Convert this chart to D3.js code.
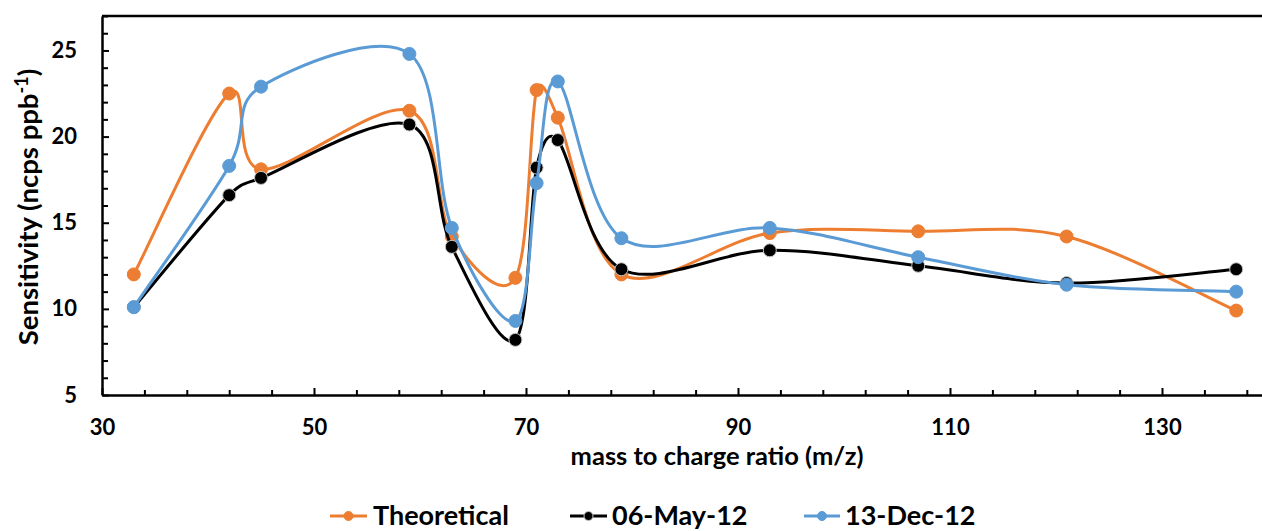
<!DOCTYPE html>
<html>
<head>
<meta charset="utf-8">
<script src="https://cdn.jsdelivr.net/npm/d3@7"></script>
<style>
  html, body { margin: 0; padding: 0; background: #fff; }
  svg { display: block; }
  text { font-family: Lato, "Open Sans", sans-serif; font-weight: 700; fill: #000; }
</style>
</head>
<body>
<svg id="chart" width="1262" height="531"></svg>
<script>
// m/z of the measured ions
const massToCharge = [33, 42, 45, 59, 63, 69, 71, 73, 79, 93, 107, 121, 137];

// Sensitivity (ncps ppb-1) per ion
const theoretical = [12.0, 22.5, 18.1, 21.5, 14.2, 11.8, 22.7, 21.1, 12.0, 14.4, 14.5, 14.2, 9.9];
const may2012     = [10.1, 16.6, 17.6, 20.7, 13.6, 8.2, 18.2, 19.8, 12.3, 13.4, 12.5, 11.5, 12.3];
const dec2012     = [10.1, 18.3, 22.9, 24.8, 14.7, 9.3, 17.3, 23.2, 14.1, 14.7, 13.0, 11.4, 11.0];

const seriesNames = ["Theoretical", "06-May-12", "13-Dec-12"];
const seriesColors = ["#ED7D31", "#000000", "#5B9BD5"];

const xMajorTicks = [30, 50, 70, 90, 110, 130];
const yMajorTicks = [5, 10, 15, 20, 25];

const svg = d3.select("#chart");

const plotLeft = 102, plotRight = 1268, plotTop = 16, plotBottom = 395;

const x = d3.scaleLinear().domain([30, 140]).range([plotLeft, plotRight]);
const y = d3.scaleLinear().domain([5, 27]).range([plotBottom, plotTop]);

// Smoothed line in the spreadsheet style: cubic Bezier segments with
// Catmull-Rom tangents, each control arm capped at half its segment length.
function smoothCurve(context) {
  let pts = [];
  const dist = (a, b) => Math.hypot(b[0] - a[0], b[1] - a[1]);
  return {
    areaStart() {}, areaEnd() {},
    lineStart() { pts = []; },
    point(px, py) { pts.push([+px, +py]); },
    lineEnd() {
      const n = pts.length;
      if (!n) return;
      context.moveTo(pts[0][0], pts[0][1]);
      for (let i = 0; i < n - 1; i++) {
        const p0 = pts[Math.max(i - 1, 0)], p1 = pts[i], p2 = pts[i + 1], p3 = pts[Math.min(i + 2, n - 1)];
        const d12 = dist(p1, p2), d02 = dist(p0, p2), d13 = dist(p1, p3);
        let f1 = 1 / 6, f2 = 1 / 6;
        if (d02 / 6 > d12 / 2) f1 = d12 / (2 * d02);
        if (d13 / 6 > d12 / 2) f2 = d12 / (2 * d13);
        context.bezierCurveTo(
          p1[0] + f1 * (p2[0] - p0[0]), p1[1] + f1 * (p2[1] - p0[1]),
          p2[0] - f2 * (p3[0] - p1[0]), p2[1] - f2 * (p3[1] - p1[1]),
          p2[0], p2[1]);
      }
    }
  };
}

// frame line along the top of the plot area
svg.append("line")
  .attr("x1", plotLeft).attr("x2", 1262)
  .attr("y1", plotTop).attr("y2", plotTop)
  .attr("stroke", "#000").attr("stroke-width", 2.5);

// minor ticks
const xMinor = d3.range(30, 141, 4).filter(v => v % 20 !== 10);
const yMinor = d3.range(5, 28, 1).filter(v => v % 5 !== 0);

svg.append("g")
  .attr("transform", `translate(0,${plotBottom})`)
  .call(d3.axisBottom(x).tickValues(xMinor).tickSizeInner(-5).tickSizeOuter(0).tickFormat(""))
  .call(g => g.select(".domain").remove())
  .call(g => g.selectAll("line").attr("stroke-width", 2));

svg.append("g")
  .attr("transform", `translate(${plotLeft},0)`)
  .call(d3.axisLeft(y).tickValues(yMinor).tickSizeInner(-6).tickSizeOuter(0).tickFormat(""))
  .call(g => g.select(".domain").remove())
  .call(g => g.selectAll("line").attr("stroke-width", 2));

// major axes
const xAxis = svg.append("g")
  .attr("transform", `translate(0,${plotBottom})`)
  .call(d3.axisBottom(x).tickValues(xMajorTicks).tickSizeInner(-7).tickSizeOuter(0).tickPadding(24).tickFormat(d3.format("d")));
xAxis.select(".domain").attr("stroke-width", 2.5);
xAxis.selectAll("line").attr("stroke-width", 2);
xAxis.selectAll("text").attr("font-size", 22);
xAxis.attr("font-family", null).attr("font-size", null);

const yAxis = svg.append("g")
  .attr("transform", `translate(${plotLeft},0)`)
  .call(d3.axisLeft(y).tickValues(yMajorTicks).tickSizeInner(-7).tickSizeOuter(0).tickPadding(25).tickFormat(d3.format("d")));
yAxis.select(".domain").attr("stroke-width", 2.5);
yAxis.selectAll("line").attr("stroke-width", 2);
yAxis.selectAll("text").attr("font-size", 22);
yAxis.attr("font-family", null).attr("font-size", null);

// axis titles
svg.append("text")
  .attr("x", 717).attr("y", 465)
  .attr("text-anchor", "middle")
  .attr("font-size", 25.5)
  .text("mass to charge ratio (m/z)");

const yTitle = svg.append("text")
  .attr("transform", "translate(38,207) rotate(-90)")
  .attr("text-anchor", "middle")
  .attr("font-size", 27.5);
yTitle.append("tspan").text("Sensitivity (ncps ppb");
yTitle.append("tspan").attr("dy", -10).attr("font-size", 18).text("-1");
yTitle.append("tspan").attr("dy", 10).text(")");

// series
const seriesValues = [theoretical, may2012, dec2012];
const line = d3.line()
  .x(d => x(d[0]))
  .y(d => y(d[1]))
  .curve(smoothCurve);

seriesValues.forEach((vals, i) => {
  const pts = massToCharge.map((m, j) => [m, vals[j]]);
  const g = svg.append("g");
  g.append("path")
    .datum(pts)
    .attr("d", line)
    .attr("fill", "none")
    .attr("stroke", seriesColors[i])
    .attr("stroke-width", 3)
    .attr("stroke-linejoin", "round");
  g.selectAll("circle")
    .data(pts)
    .join("circle")
    .attr("cx", d => x(d[0]))
    .attr("cy", d => y(d[1]))
    .attr("r", 6.5)
    .attr("fill", seriesColors[i])
    .attr("stroke", i === 1 ? "#c8c8c8" : seriesColors[i])
    .attr("stroke-width", 1);
});

// legend
const legendItems = [
  { x0: 330, x1: 367, tx: 373 },
  { x0: 570, x1: 607, tx: 612 },
  { x0: 804, x1: 840, tx: 845 }
];
const legendY = 516;
legendItems.forEach((it, i) => {
  const g = svg.append("g");
  g.append("line")
    .attr("x1", it.x0).attr("x2", it.x1)
    .attr("y1", legendY).attr("y2", legendY)
    .attr("stroke", seriesColors[i]).attr("stroke-width", 3);
  g.append("circle")
    .attr("cx", (it.x0 + it.x1) / 2).attr("cy", legendY)
    .attr("r", 4.5)
    .attr("fill", seriesColors[i])
    .attr("stroke", i === 1 ? "#c8c8c8" : seriesColors[i])
    .attr("stroke-width", 1);
  g.append("text")
    .attr("x", it.tx).attr("y", 525)
    .attr("font-size", 27)
    .text(seriesNames[i]);
});
</script>
</body>
</html>
